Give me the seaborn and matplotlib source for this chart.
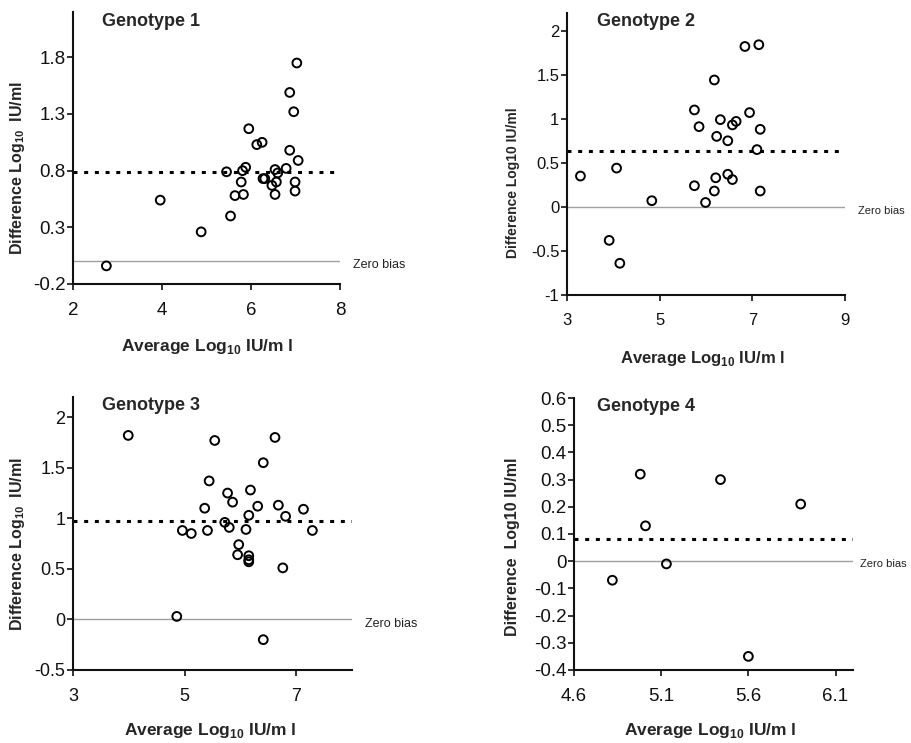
import matplotlib

matplotlib.use("Agg")
import matplotlib.pyplot as plt
import pandas as pd
import seaborn as sns

# --- Data -----------------------------------------------------------------
g1_avg = [2.75, 3.96, 4.88, 5.54, 5.45, 5.64, 5.78, 5.83, 5.81, 5.88, 5.95, 6.13,
          6.25, 6.27, 6.31, 6.47, 6.54, 6.57, 6.60, 6.54, 6.79, 6.87, 6.87, 6.96,
          6.99, 6.99, 7.06, 7.03]
g1_diff = [-0.04, 0.54, 0.26, 0.40, 0.79, 0.58, 0.70, 0.59, 0.80, 0.83, 1.17, 1.03,
           1.05, 0.73, 0.73, 0.67, 0.81, 0.70, 0.78, 0.59, 0.82, 0.98, 1.49, 1.32,
           0.70, 0.62, 0.89, 1.75]

g2_avg = [3.29, 3.91, 4.07, 4.14, 4.83, 5.75, 5.75, 5.85, 5.99, 6.18, 6.18, 6.21,
          6.23, 6.31, 6.47, 6.47, 6.57, 6.57, 6.65, 6.84, 6.94, 7.10, 7.14, 7.17,
          7.17]
g2_diff = [0.35, -0.38, 0.44, -0.64, 0.07, 1.10, 0.24, 0.91, 0.05, 1.44, 0.18, 0.33,
           0.80, 0.99, 0.75, 0.37, 0.31, 0.93, 0.97, 1.82, 1.07, 0.65, 1.84, 0.88,
           0.18]

g3_avg = [3.99, 4.86, 4.96, 5.12, 5.36, 5.41, 5.44, 5.54, 5.72, 5.77, 5.80, 5.86,
          5.97, 5.95, 6.10, 6.15, 6.15, 6.15, 6.15, 6.18, 6.31, 6.41, 6.41, 6.62,
          6.68, 6.76, 6.81, 7.13, 7.29]
g3_diff = [1.82, 0.03, 0.88, 0.85, 1.10, 0.88, 1.37, 1.77, 0.96, 1.25, 0.91, 1.16,
           0.74, 0.64, 0.89, 1.03, 0.63, 0.57, 0.59, 1.28, 1.12, 1.55, -0.20, 1.80,
           1.13, 0.51, 1.02, 1.09, 0.88]

g4_avg = [4.82, 4.98, 5.01, 5.13, 5.44, 5.60, 5.90]
g4_diff = [-0.07, 0.32, 0.13, -0.01, 0.30, -0.35, 0.21]

mean_bias = [0.79, 0.63, 0.97, 0.08]
titles = ["Genotype 1", "Genotype 2", "Genotype 3", "Genotype 4"]

x_ticks = [[2, 4, 6, 8], [3, 5, 7, 9], [3, 5, 7], [4.6, 5.1, 5.6, 6.1]]
x_labels = [["2", "4", "6", "8"], ["3", "5", "7", "9"], ["3", "5", "7"],
            ["4.6", "5.1", "5.6", "6.1"]]
y_ticks = [[-0.2, 0.3, 0.8, 1.3, 1.8],
           [-1, -0.5, 0, 0.5, 1, 1.5, 2],
           [-0.5, 0, 0.5, 1, 1.5, 2],
           [-0.4, -0.3, -0.2, -0.1, 0, 0.1, 0.2, 0.3, 0.4, 0.5, 0.6]]
y_labels = [["-0.2", "0.3", "0.8", "1.3", "1.8"],
            ["-1", "-0.5", "0", "0.5", "1", "1.5", "2"],
            ["-0.5", "0", "0.5", "1", "1.5", "2"],
            ["-0.4", "-0.3", "-0.2", "-0.1", "0", "0.1", "0.2", "0.3", "0.4",
             "0.5", "0.6"]]
x_lims = [(2, 8), (3, 9), (3, 8), (4.6, 6.2)]
y_lims = [(-0.2, 2.2), (-1, 2.2), (-0.5, 2.2), (-0.4, 0.6)]

sub = r"$_{\mathbf{10}}$"
y_titles = ["Difference Log" + sub + "  IU/ml", "Difference Log10 IU/ml",
            "Difference Log" + sub + "  IU/ml", "Difference  Log10 IU/ml"]
x_title = "Average Log" + sub + " IU/m l"

# --- Layout (pixels of a 912 x 743 canvas) ---------------------------------
W, H = 912, 743
# left, top, right, bottom of each axes box
boxes = [(73, 12, 340, 284), (567, 13, 845, 295), (73, 397, 352, 670),
         (574, 398, 853, 670)]
ylab_px = [(18, 168), (513, 183), (18, 544), (513, 547)]
xlab_px = [(207, 347), (702, 358), (210, 730), (710, 730)]
title_px = [(102, 21), (597, 21), (102, 406), (597, 406)]
zero_px = [(353, 265), (858, 211), (365, 624), (860, 564)]
tick_fs = [13.5, 12, 13, 13.5]
ylab_fs = [11.5, 10, 11.5, 11.5]
xlab_fs = [12.5, 12, 12.5, 12.5]
zero_fs = [9, 8, 9, 8]

sns.set_theme(style="ticks")
plt.rcParams["font.family"] = ["Liberation Sans", "DejaVu Sans"]
plt.rcParams["mathtext.fontset"] = "custom"
plt.rcParams["mathtext.rm"] = "Liberation Sans"
plt.rcParams["mathtext.bf"] = "Liberation Sans:bold"
plt.rcParams["axes.unicode_minus"] = False

data = [(g1_avg, g1_diff), (g2_avg, g2_diff), (g3_avg, g3_diff), (g4_avg, g4_diff)]

fig = plt.figure(figsize=(W / 100, H / 100), dpi=100)
for i, (avg, diff) in enumerate(data):
    l, t, r, b = boxes[i]
    ax = fig.add_axes([l / W, (H - b) / H, (r - l) / W, (b - t) / H])
    df = pd.DataFrame({"avg": avg, "diff": diff})

    ax.axhline(0, color="#a0a0a0", lw=1, zorder=1)
    ax.axhline(mean_bias[i], color="black", lw=2.2, ls=(0, (1.3, 2.2)), zorder=1)
    sns.scatterplot(data=df, x="avg", y="diff", ax=ax, marker="o", s=40,
                    facecolors="none", edgecolor="black", linewidth=1.4, zorder=3)

    ax.set_xlim(*x_lims[i])
    ax.set_ylim(*y_lims[i])
    ax.set_xticks(x_ticks[i], x_labels[i])
    ax.set_yticks(y_ticks[i], y_labels[i])
    ax.tick_params(axis="both", labelsize=tick_fs[i], length=4, width=1.2,
                   colors="#111111")
    ax.tick_params(axis="x", pad=9)
    ax.tick_params(axis="y", pad=1.5)
    for s in ["left", "bottom"]:
        ax.spines[s].set_linewidth(1.5)
        ax.spines[s].set_color("#111111")
    sns.despine(ax=ax)

    w, h = r - l, b - t
    ax.set_xlabel(x_title, fontsize=xlab_fs[i], fontweight="bold", va="center")
    ax.xaxis.set_label_coords((xlab_px[i][0] - l) / w, (b - xlab_px[i][1]) / h)
    ax.set_ylabel(y_titles[i], fontsize=ylab_fs[i], fontweight="bold", va="center")
    ax.yaxis.set_label_coords((ylab_px[i][0] - l) / w, (b - ylab_px[i][1]) / h)

    ax.text((title_px[i][0] - l) / w, (b - title_px[i][1]) / h, titles[i],
            transform=ax.transAxes, fontsize=13, fontweight="bold",
            ha="left", va="center")
    ax.text((zero_px[i][0] - l) / w, (b - zero_px[i][1]) / h, "Zero bias",
            transform=ax.transAxes, fontsize=zero_fs[i], color="#222222",
            ha="left", va="center", clip_on=False)

fig.savefig("out.png", dpi=100, facecolor="white")
